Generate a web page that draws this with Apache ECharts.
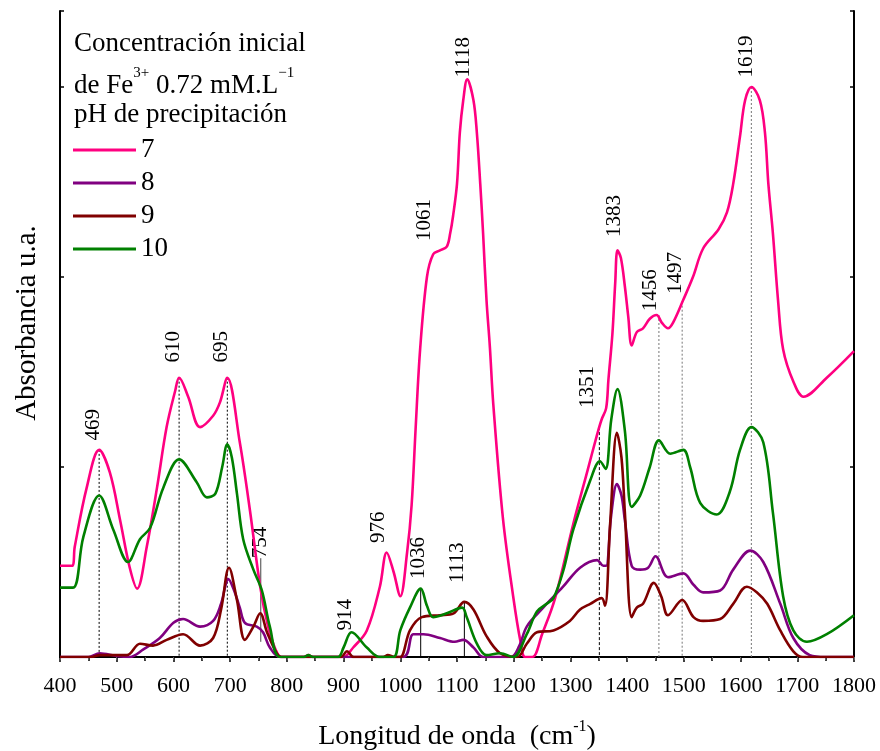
<!DOCTYPE html>
<html>
<head>
<meta charset="utf-8">
<script src="https://cdn.jsdelivr.net/npm/echarts@6/dist/echarts.min.js"></script>
<style>
  html, body { margin: 0; padding: 0; background: #fff; }
  #chart { width: 880px; height: 751px; }
</style>
</head>
<body>
<div id="chart"></div>
<script>
// FTIR spectra of precipitates, one curve per precipitation pH: [wavenumber cm-1, absorbance a.u.]
const ph7 = [
  [400,0.48],[421,0.48],[426,0.58],[447,0.89],[469,1.09],[488,0.97],[506,0.72],[523,0.47],[536,0.36],
  [553,0.58],[571,0.89],[588,1.21],[603,1.40],[610,1.47],[626,1.37],[647,1.21],[670,1.27],[682,1.34],
  [695,1.47],[717,1.13],[735,0.77],[753,0.37],[767,0.16],[780,0.04],[790,0],[830,0],[838,0.01],[846,0],
  [899,0],[917,0.05],[941,0.14],[964,0.37],[976,0.55],[988,0.45],[1000,0.32],[1012,0.55],[1020,0.8],
  [1027,1.2],[1035,1.62],[1047,2.0],[1058,2.12],[1070,2.14],[1082,2.16],[1088,2.23],[1093,2.32],
  [1100,2.49],[1105,2.76],[1111,2.93],[1118,3.04],[1129,2.93],[1135,2.76],[1141,2.49],[1146,2.23],
  [1152,1.88],[1158,1.63],[1164,1.33],[1181,0.73],[1199,0.32],[1212,0.08],
  [1220,0],[1233,0],[1250,0.12],[1273,0.31],[1305,0.7],[1330,0.98],[1347,1.17],[1355,1.25],[1363,1.31],
  [1367,1.46],[1374,1.7],[1379,1.97],[1383,2.14],[1389,2.1],[1396,1.95],[1402,1.79],[1408,1.64],
  [1417,1.71],[1428,1.73],[1440,1.78],[1452,1.80],[1461,1.76],[1472,1.73],[1481,1.76],[1499,1.88],
  [1516,2.0],[1534,2.15],[1561,2.25],[1576,2.34],[1587,2.49],[1599,2.74],[1608,2.93],[1619,3.0],
  [1634,2.93],[1643,2.76],[1649,2.49],[1657,2.23],[1666,1.88],[1675,1.62],[1693,1.45],
  [1711,1.37],[1752,1.47],[1800,1.61]
];
const ph8 = [
  [400,0],[450,0],[470,0.02],[500,0.005],[523,0],[547,0.04],[576,0.10],[600,0.18],[617,0.20],[647,0.16],
  [670,0.19],[684,0.28],[697,0.41],[707,0.35],[717,0.26],[726,0.18],[747,0.16],[758,0.13],[770,0.05],
  [788,0],[1005,0],[1023,0.12],[1041,0.12],[1070,0.10],[1096,0.08],[1111,0.09],[1129,0.05],[1146,0],
  [1195,0],[1210,0.06],[1223,0.16],[1252,0.26],[1287,0.37],[1317,0.47],[1347,0.51],[1358,0.48],
  [1363,0.48],[1372,0.75],[1382,0.91],[1390,0.85],[1396,0.72],[1408,0.48],[1423,0.46],[1437,0.47],
  [1450,0.53],[1472,0.42],[1499,0.44],[1517,0.38],[1534,0.34],[1564,0.35],[1587,0.46],[1617,0.56],
  [1640,0.50],[1670,0.28],[1693,0.10],[1722,0.01],[1750,0],[1800,0]
];
const ph9 = [
  [400,0],[455,0],[470,0.01],[518,0.01],[541,0.07],[564,0.06],[588,0.09],[617,0.12],[647,0.06],[670,0.10],
  [684,0.25],[698,0.47],[712,0.30],[726,0.09],[741,0.16],[753,0.23],[765,0.13],[782,0.02],[790,0],
  [895,0],[906,0.03],[918,0],[970,0],[978,0.01],[990,0],[1000,0],[1017,0.14],[1038,0.21],[1070,0.22],
  [1094,0.23],[1113,0.29],[1129,0.25],[1152,0.11],[1176,0.02],[1206,0],[1223,0.07],[1241,0.13],
  [1270,0.14],[1299,0.19],[1317,0.25],[1335,0.28],[1355,0.31],[1361,0.27],[1370,0.7],[1382,1.18],
  [1390,1.05],[1396,0.76],[1408,0.21],[1417,0.26],[1428,0.28],[1447,0.39],[1460,0.32],[1472,0.22],
  [1497,0.30],[1517,0.21],[1534,0.19],[1564,0.20],[1587,0.28],[1611,0.37],[1629,0.34],[1647,0.28],
  [1670,0.14],[1693,0.03],[1710,0],[1800,0]
];
const ph10 = [
  [400,0.365],[423,0.365],[441,0.63],[469,0.85],[494,0.67],[520,0.50],[541,0.62],[559,0.68],[582,0.89],
  [610,1.04],[641,0.92],[659,0.84],[674,0.86],[686,1.0],[695,1.12],[703,1.05],[712,0.86],[723,0.62],
  [741,0.46],[756,0.35],[770,0.16],[788,0],[830,0],[838,0.01],[846,0],[890,0],[900,0.05],[914,0.13],
  [941,0.05],[964,0],[988,0],[1000,0.14],[1017,0.26],[1036,0.36],[1047,0.27],[1058,0.21],[1082,0.23],
  [1109,0.26],[1117,0.21],[1135,0.07],[1152,0.01],[1176,0.02],[1199,0],[1223,0.12],[1241,0.24],
  [1258,0.28],[1270,0.31],[1287,0.45],[1305,0.67],[1335,0.93],[1352,1.03],[1362,0.99],[1372,1.25],
  [1383,1.41],[1396,1.19],[1408,0.79],[1423,0.85],[1440,1.0],[1456,1.14],[1476,1.07],[1499,1.09],
  [1511,1.0],[1529,0.81],[1558,0.75],[1581,0.87],[1599,1.09],[1619,1.21],[1640,1.13],[1657,0.76],
  [1675,0.32],[1693,0.14],[1717,0.08],[1752,0.12],[1800,0.22]
];

const seriesNames = ['7', '8', '9', '10'];
const seriesColors = ['#ff0080', '#800080', '#800000', '#008000'];

// Band assignments: wavenumber, guide line top/bottom (absorbance), where the label starts,
// sideways nudge of the label in px, guide style
const peakMarks = [
  { wn: 469,  top: 1.09, bottom: 0,    labelAt: 1.14, dx: -6, guide: 'dot' },
  { wn: 610,  top: 1.47, bottom: 0,    labelAt: 1.55, dx: -6, guide: 'dot' },
  { wn: 695,  top: 1.47, bottom: 0,    labelAt: 1.55, dx: -6, guide: 'dot' },
  { wn: 754,  top: 0.52, bottom: 0.08, labelAt: 0.52, dx: 0,  guide: 'thin' },
  { wn: 914,  top: 0,    bottom: 0,    labelAt: 0.14, dx: -6, guide: 'none' },
  { wn: 976,  top: 0,    bottom: 0,    labelAt: 0.60, dx: -8, guide: 'none' },
  { wn: 1036, top: 0.36, bottom: 0,    labelAt: 0.41, dx: -2, guide: 'solid' },
  { wn: 1061, top: 0,    bottom: 0,    labelAt: 2.19, dx: -10, guide: 'none' },
  { wn: 1113, top: 0.29, bottom: 0,    labelAt: 0.39, dx: -7, guide: 'solid' },
  { wn: 1118, top: 0,    bottom: 0,    labelAt: 3.05, dx: -4, guide: 'none' },
  { wn: 1351, top: 1.21, bottom: 0,    labelAt: 1.31, dx: -12, guide: 'dash' },
  { wn: 1383, top: 0,    bottom: 0,    labelAt: 2.21, dx: -3, guide: 'none' },
  { wn: 1456, top: 1.80, bottom: 0,    labelAt: 1.82, dx: -8, guide: 'grey' },
  { wn: 1497, top: 1.87, bottom: 0,    labelAt: 1.91, dx: -7, guide: 'grey' },
  { wn: 1619, top: 3.0,  bottom: 0,    labelAt: 3.05, dx: -5, guide: 'grey' }
];

const SERIF = '"Liberation Serif", "Times New Roman", serif';

const guideStyles = {
  dot:   { stroke: '#000', lineWidth: 1, lineDash: [2, 2] },
  dash:  { stroke: '#000', lineWidth: 1, lineDash: [3, 2] },
  grey:  { stroke: '#777', lineWidth: 1, lineDash: [2, 2] },
  solid: { stroke: '#000', lineWidth: 1 },
  thin:  { stroke: '#444', lineWidth: 1 }
};

function renderPeakMark(params, api) {
  const m = peakMarks[params.dataIndex];
  const children = [];
  const pTop = api.coord([api.value(0), api.value(1)]);
  const pBot = api.coord([api.value(0), api.value(2)]);
  if (m.guide !== 'none') {
    children.push({
      type: 'line',
      shape: { x1: pTop[0], y1: pTop[1], x2: pBot[0], y2: pBot[1] },
      style: Object.assign({ fill: null }, guideStyles[m.guide])
    });
  }
  const lp = api.coord([api.value(0), api.value(3)]);
  children.push({
    type: 'text',
    x: lp[0] + m.dx,
    y: lp[1],
    rotation: Math.PI / 2,
    style: {
      text: String(m.wn),
      font: '21px ' + SERIF,
      fill: '#000',
      align: 'left',
      verticalAlign: 'middle'
    }
  });
  return { type: 'group', children: children };
}

const chart = echarts.init(document.getElementById('chart'), null, { renderer: 'canvas' });

const lineSeries = [ph7, ph8, ph9, ph10].map((d, i) => ({
  name: seriesNames[i],
  type: 'line',
  data: d,
  symbol: 'none',
  showSymbol: false,
  smooth: 0.35,
  z: 3,
  color: seriesColors[i],
  lineStyle: { color: seriesColors[i], width: 2.6 },
  emphasis: { disabled: true }
}));

chart.setOption({
  animation: false,
  backgroundColor: '#fff',
  grid: { left: 60, right: 26, top: 11, bottom: 94, containLabel: false, outerBoundsMode: 'none' },
  xAxis: [
    {
      type: 'value', min: 400, max: 1800, interval: 100, position: 'bottom',
      axisLine: { lineStyle: { color: '#000', width: 2 } },
      axisTick: { show: true, inside: false, length: 5, lineStyle: { color: '#000', width: 1.5 } },
      minorTick: { show: true, splitNumber: 2, length: 4, lineStyle: { color: '#000', width: 1.5 } },
      splitLine: { show: false },
      axisLabel: { color: '#000', fontFamily: SERIF, fontSize: 22, margin: 18, formatter: v => String(v) },
      name: 'Longitud de onda  (cm{sup|-1})',
      nameLocation: 'middle',
      nameGap: 62,
      nameMoveOverlap: false,
      nameTextStyle: {
        color: '#000', fontFamily: SERIF, fontSize: 28, lineHeight: 36,
        rich: { sup: { fontSize: 16, fontFamily: SERIF, color: '#000', lineHeight: 16, verticalAlign: 'top' } }
      }
    },
    {
      type: 'value', min: 400, max: 1800, interval: 100, position: 'top',
      axisLine: { lineStyle: { color: '#000', width: 2 } },
      axisTick: { show: true, inside: true, length: 3, lineStyle: { color: '#666', width: 1 } },
      minorTick: { show: true, splitNumber: 2, length: 3, lineStyle: { color: '#666', width: 1 } },
      splitLine: { show: false },
      axisLabel: { show: false }
    }
  ],
  yAxis: [
    {
      type: 'value', min: 0, max: 3.4, interval: 1, position: 'left',
      axisLine: { show: true, lineStyle: { color: '#000', width: 2 } },
      axisTick: { show: true, inside: true, length: 4, lineStyle: { color: '#000', width: 1.5 } },
      splitLine: { show: false },
      axisLabel: { show: false },
      name: 'Absorbancia u.a.',
      nameLocation: 'middle',
      nameGap: 18,
      nameRotate: 90,
      nameMoveOverlap: false,
      nameTextStyle: { color: '#000', fontFamily: SERIF, fontSize: 29, padding: [0, 0, 0, 22] }
    },
    {
      type: 'value', min: 0, max: 3.4, interval: 1, position: 'right',
      axisLine: { show: true, lineStyle: { color: '#000', width: 2 } },
      axisTick: { show: true, inside: true, length: 4, lineStyle: { color: '#000', width: 1.5 } },
      splitLine: { show: false },
      axisLabel: { show: false }
    }
  ],
  legend: {
    data: seriesNames,
    orient: 'vertical',
    left: 73,
    top: 136.5,
    padding: 0,
    itemGap: 6,
    itemWidth: 63,
    itemHeight: 3,
    icon: 'rect',
    selectedMode: false,
    textStyle: { color: '#000', fontFamily: SERIF, fontSize: 27, lineHeight: 27 }
  },
  graphic: [
    { type: 'text', left: 74, top: 30, z: 10,
      style: { text: 'Concentración inicial', font: '27px ' + SERIF, fill: '#000' } },
    { type: 'text', left: 74, top: 66, z: 10,
      style: {
        text: 'de Fe{sup|3+} 0.72 mM.L{sup|\u22121}',
        font: '27px ' + SERIF, fill: '#000', lineHeight: 40,
        rich: { sup: { fontSize: 15, fontFamily: SERIF, fill: '#000', lineHeight: 15, verticalAlign: 'top' } }
      } },
    { type: 'text', left: 74, top: 101, z: 10,
      style: { text: 'pH de precipitación', font: '27px ' + SERIF, fill: '#000' } }
  ],
  series: lineSeries.concat([{
    type: 'custom',
    name: 'bandas',
    renderItem: renderPeakMark,
    data: peakMarks.map(m => [m.wn, m.top, m.bottom, m.labelAt]),
    encode: { x: 0, y: [1, 2, 3] },
    clip: false,
    z: 2,
    silent: true
  }])
});
</script>
</body>
</html>
